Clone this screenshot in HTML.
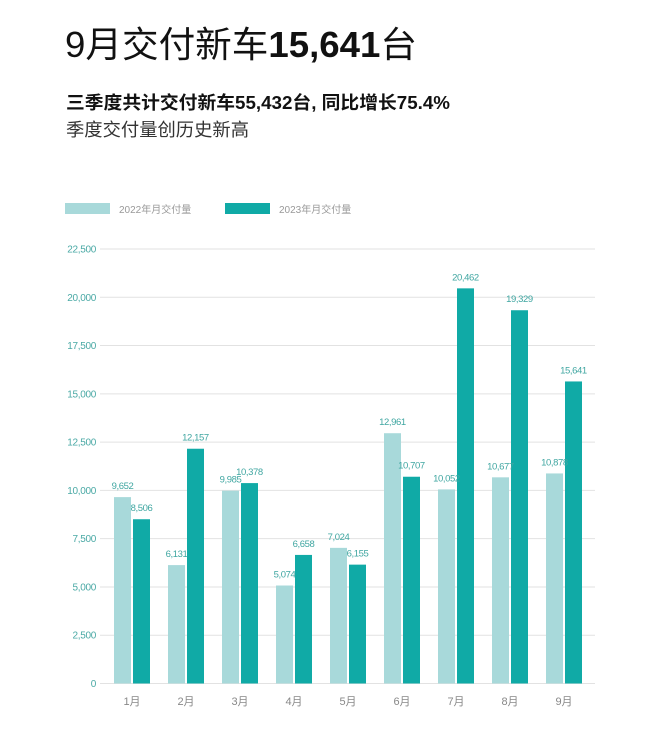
<!DOCTYPE html>
<html><head><meta charset="utf-8"><style>
body{margin:0;width:660px;height:736px;background:#fff;overflow:hidden;font-family:"Liberation Sans","Noto Sans CJK SC",sans-serif}
</style></head><body>
<svg id="s" width="660" height="736" xmlns="http://www.w3.org/2000/svg" style="position:absolute;left:0;top:0">
<text x="65" y="57" font-size="36" fill="#111" textLength="352" lengthAdjust="spacingAndGlyphs" font-family="Liberation Sans, Noto Sans CJK SC, sans-serif">9月交付新车<tspan font-weight="bold">15,641</tspan>台</text>
<text x="66" y="109" font-size="18" font-weight="bold" fill="#111" textLength="384" lengthAdjust="spacingAndGlyphs" font-family="Liberation Sans, Noto Sans CJK SC, sans-serif">三季度共计交付新车55,432台, 同比增长75.4%</text>
<text x="66" y="136" font-size="18" fill="#333" textLength="183" lengthAdjust="spacingAndGlyphs" font-family="Liberation Sans, Noto Sans CJK SC, sans-serif">季度交付量创历史新高</text>
<rect x="65" y="203" width="45" height="11" fill="#a8d9da"/>
<text x="119" y="213" font-size="10" fill="#999" font-family="Liberation Sans, Noto Sans CJK SC, sans-serif">2022年月交付量</text>
<rect x="225" y="203" width="45" height="11" fill="#10aaa6"/>
<text x="279" y="213" font-size="10" fill="#999" font-family="Liberation Sans, Noto Sans CJK SC, sans-serif">2023年月交付量</text>
<g id="g"></g>
</svg>
<script>
var g=document.getElementById('g'),h='';
var y0=683.5,k=(683.5-249)/22500;
for(var i=0;i<=9;i++){var v=i*2500,y=y0-v*k;
h+='<line x1="100" x2="595" y1="'+y+'" y2="'+y+'" stroke="#e2e2e2" stroke-width="1"/>';
h+='<text x="96" y="'+(y+3.5)+'" font-size="10" fill="#4aa9a5" text-anchor="end" letter-spacing="-0.3" font-family="Liberation Sans, sans-serif">'+(v?v.toLocaleString('en-US'):'0')+'</text>';}
var a=[9652,6131,9985,5074,7024,12961,10052,10677,10878],b=[8506,12157,10378,6658,6155,10707,20462,19329,15641];
for(var j=0;j<9;j++){var x=114+j*54;
var ya=y0-a[j]*k,yb=y0-b[j]*k;
h+='<rect x="'+x+'" y="'+ya+'" width="17" height="'+(y0-ya)+'" fill="#a8d9da"/>';
h+='<rect x="'+(x+19)+'" y="'+yb+'" width="17" height="'+(y0-yb)+'" fill="#10aaa6"/>';
h+='<text x="'+(x+8.5)+'" y="'+(ya-8)+'" font-size="9.5" letter-spacing="-0.4" fill="#3fa6a1" text-anchor="middle" font-family="Liberation Sans, sans-serif">'+a[j].toLocaleString('en-US')+'</text>';
h+='<text x="'+(x+27.5)+'" y="'+(yb-8)+'" font-size="9.5" letter-spacing="-0.4" fill="#3fa6a1" text-anchor="middle" font-family="Liberation Sans, sans-serif">'+b[j].toLocaleString('en-US')+'</text>';
h+='<text x="'+(x+18)+'" y="705" font-size="11" fill="#888" text-anchor="middle" font-family="Liberation Sans, Noto Sans CJK SC, sans-serif">'+(j+1)+'月</text>';}
g.innerHTML=h;
</script>
</body></html>
